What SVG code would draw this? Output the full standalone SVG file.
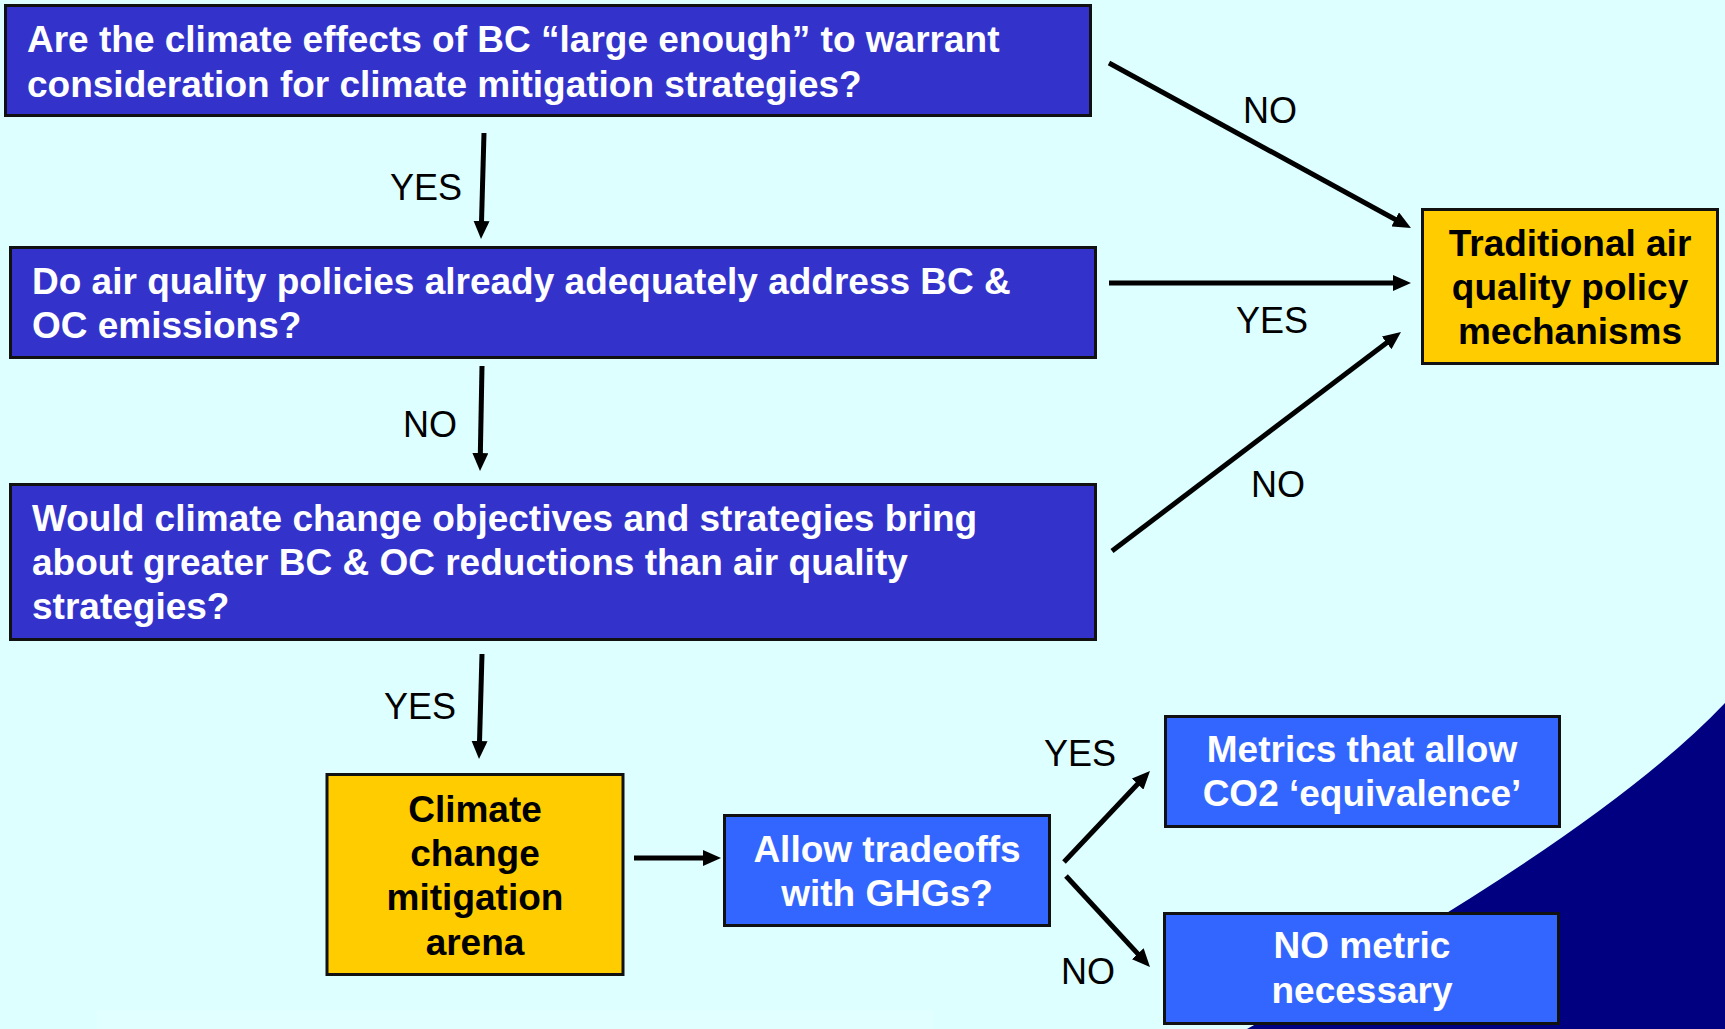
<svg xmlns="http://www.w3.org/2000/svg" width="1725" height="1029" viewBox="0 0 1725 1029">
  <style>
    .q { fill: #3333CC; stroke: #111; stroke-width: 3; }
    .b { fill: #3366FF; stroke: #111; stroke-width: 3; }
    .y { fill: #FFCC00; stroke: #111; stroke-width: 3; }
    .tw { font-family: "Liberation Sans", Arial, sans-serif; font-weight: bold; font-size: 37px; fill: #FFFFFF; }
    .tk { font-family: "Liberation Sans", Arial, sans-serif; font-weight: bold; font-size: 37px; fill: #000000; }
    .mid { text-anchor: middle; }
    .lab { font-family: "Liberation Sans", Arial, sans-serif; font-size: 36px; fill: #000000; }
    .c { stroke: #000; stroke-width: 5; fill: none; marker-end: url(#ah); }
  </style>
  <defs>
    <marker id="ah" markerUnits="userSpaceOnUse" markerWidth="18" markerHeight="16" refX="8" refY="8" orient="auto" viewBox="0 0 18 16">
      <path d="M0,0 L18,8 L0,16 z" fill="#000"/>
    </marker>
  </defs>

  <rect x="0" y="0" width="1725" height="1029" fill="#DDFFFF"/>
  <rect x="97" y="1010" width="836" height="19" fill="#E2FFFF"/>
  <path d="M1725,703 Q1600,835 1247,1029 L1725,1029 z" fill="#000080"/>

  <g id="connectors">
    <line class="c" x1="484" y1="133" x2="481.3" y2="229"/>
    <line class="c" x1="1109" y1="63" x2="1402.2" y2="223.2"/>
    <line class="c" x1="1109" y1="283" x2="1401" y2="283"/>
    <line class="c" x1="1112" y1="551" x2="1393" y2="338"/>
    <line class="c" x1="482" y1="366" x2="480.2" y2="461"/>
    <line class="c" x1="482" y1="654" x2="479.3" y2="749"/>
    <line class="c" x1="634" y1="858" x2="711" y2="858" stroke-width="6"/>
    <line class="c" x1="1064" y1="862" x2="1143.1" y2="778.3"/>
    <line class="c" x1="1066" y1="876" x2="1143.2" y2="959.6"/>
  </g>

  <g id="labels">
    <text class="lab" x="390" y="200">YES</text>
    <text class="lab" x="403" y="437">NO</text>
    <text class="lab" x="384" y="719">YES</text>
    <text class="lab" x="1243" y="123">NO</text>
    <text class="lab" x="1236" y="333">YES</text>
    <text class="lab" x="1251" y="497">NO</text>
    <text class="lab" x="1044" y="766">YES</text>
    <text class="lab" x="1061" y="984">NO</text>
  </g>

  <g id="q1">
    <rect class="q" x="5.5" y="5.5" width="1085" height="110"/>
    <text class="tw" x="27" y="52">Are the climate effects of BC “large enough” to warrant</text>
    <text class="tw" x="27" y="97">consideration for climate mitigation strategies?</text>
  </g>
  <g id="q2">
    <rect class="q" x="10.5" y="247.5" width="1085" height="110"/>
    <text class="tw" x="32" y="294">Do air quality policies already adequately address BC &amp;</text>
    <text class="tw" x="32" y="338">OC emissions?</text>
  </g>
  <g id="q3">
    <rect class="q" x="10.5" y="484.5" width="1085" height="155"/>
    <text class="tw" x="32" y="531">Would climate change objectives and strategies bring</text>
    <text class="tw" x="32" y="575">about greater BC &amp; OC reductions than air quality</text>
    <text class="tw" x="32" y="619">strategies?</text>
  </g>
  <g id="traditional">
    <rect class="y" x="1422.5" y="209.5" width="295" height="154"/>
    <text class="tk mid" x="1570" y="256">Traditional air</text>
    <text class="tk mid" x="1570" y="300">quality policy</text>
    <text class="tk mid" x="1570" y="344">mechanisms</text>
  </g>
  <g id="climate">
    <rect class="y" x="327" y="774.5" width="296" height="200"/>
    <text class="tk mid" x="475" y="822">Climate</text>
    <text class="tk mid" x="475" y="866">change</text>
    <text class="tk mid" x="475" y="910">mitigation</text>
    <text class="tk mid" x="475" y="955">arena</text>
  </g>
  <g id="allow">
    <rect class="b" x="724.5" y="815.5" width="325" height="110"/>
    <text class="tw mid" x="887" y="862">Allow tradeoffs</text>
    <text class="tw mid" x="887" y="906">with GHGs?</text>
  </g>
  <g id="metrics">
    <rect class="b" x="1165.5" y="716.5" width="394" height="110"/>
    <text class="tw mid" x="1362" y="762">Metrics that allow</text>
    <text class="tw mid" x="1362" y="806">CO2 ‘equivalence’</text>
  </g>
  <g id="nometric">
    <rect class="b" x="1164.5" y="913.5" width="394" height="110"/>
    <text class="tw mid" x="1362" y="958">NO metric</text>
    <text class="tw mid" x="1362" y="1003">necessary</text>
  </g>
</svg>
